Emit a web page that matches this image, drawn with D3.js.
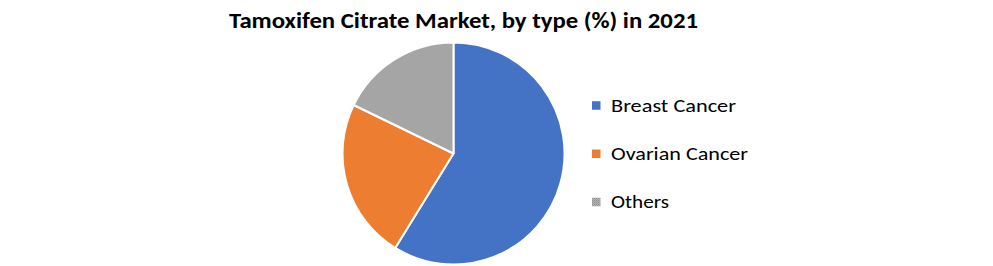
<!DOCTYPE html>
<html><head><meta charset="utf-8">
<script src="https://cdn.jsdelivr.net/npm/d3@7"></script>
<style>html,body{margin:0;padding:0;background:#fff;}svg{display:block;}</style>
</head><body>
<svg id="c" width="993" height="266"></svg>
<script>
const title = "Tamoxifen Citrate Market, by type (%) in 2021";
const categories = ["Breast Cancer", "Ovarian Cancer", "Others"];
const values = [58.8, 23.4, 17.8];
const colors = ["#4472c4", "#ed7d31", "url(#greyDots)"];

const svg = d3.select("#c");
const defs = svg.append("defs");
const pat = defs.append("pattern").attr("id", "greyDots").attr("patternUnits", "userSpaceOnUse")
  .attr("width", 2).attr("height", 2);
pat.append("rect").attr("width", 2).attr("height", 2).attr("fill", "#b2b2b2");
pat.append("rect").attr("width", 1).attr("height", 1).attr("fill", "#8f8f8f");
pat.append("rect").attr("x", 1).attr("y", 1).attr("width", 1).attr("height", 1).attr("fill", "#a0a0a0");

const font = "Calibri, Carlito, 'Liberation Sans', Arial, sans-serif";

svg.append("text").attr("x", 229).attr("y", 28)
  .attr("font-family", font).attr("font-weight", "bold").attr("font-size", 21.5)
  .attr("fill", "#000").attr("textLength", 469).attr("lengthAdjust", "spacingAndGlyphs")
  .text(title);

const cx = 453.5, cy = 153.5, r = 111;
const pie = d3.pie().sort(null).value(d => d)(values);
const arc = d3.arc().innerRadius(0).outerRadius(r);
const g = svg.append("g").attr("transform", `translate(${cx},${cy})`);
g.selectAll("path").data(pie).join("path")
  .attr("d", arc).attr("fill", (d, i) => colors[i])
  .attr("stroke", "#fff").attr("stroke-width", 2).attr("stroke-linejoin", "round");

const legY = d3.scalePoint().domain(categories).range([105.5, 202]);
const widths = [125, 137, 58];
const lg = svg.append("g");
categories.forEach((c, i) => {
  const y = legY(c);
  lg.append("rect").attr("x", 592).attr("y", y - 4.25).attr("width", 8.5).attr("height", 8.5)
    .attr("fill", colors[i]);
  lg.append("text").attr("x", 611).attr("y", y + 6.2)
    .attr("font-family", font).attr("font-size", 17.7).attr("fill", "#000")
    .attr("textLength", widths[i]).attr("lengthAdjust", "spacingAndGlyphs")
    .text(c);
});
</script>
</body></html>
